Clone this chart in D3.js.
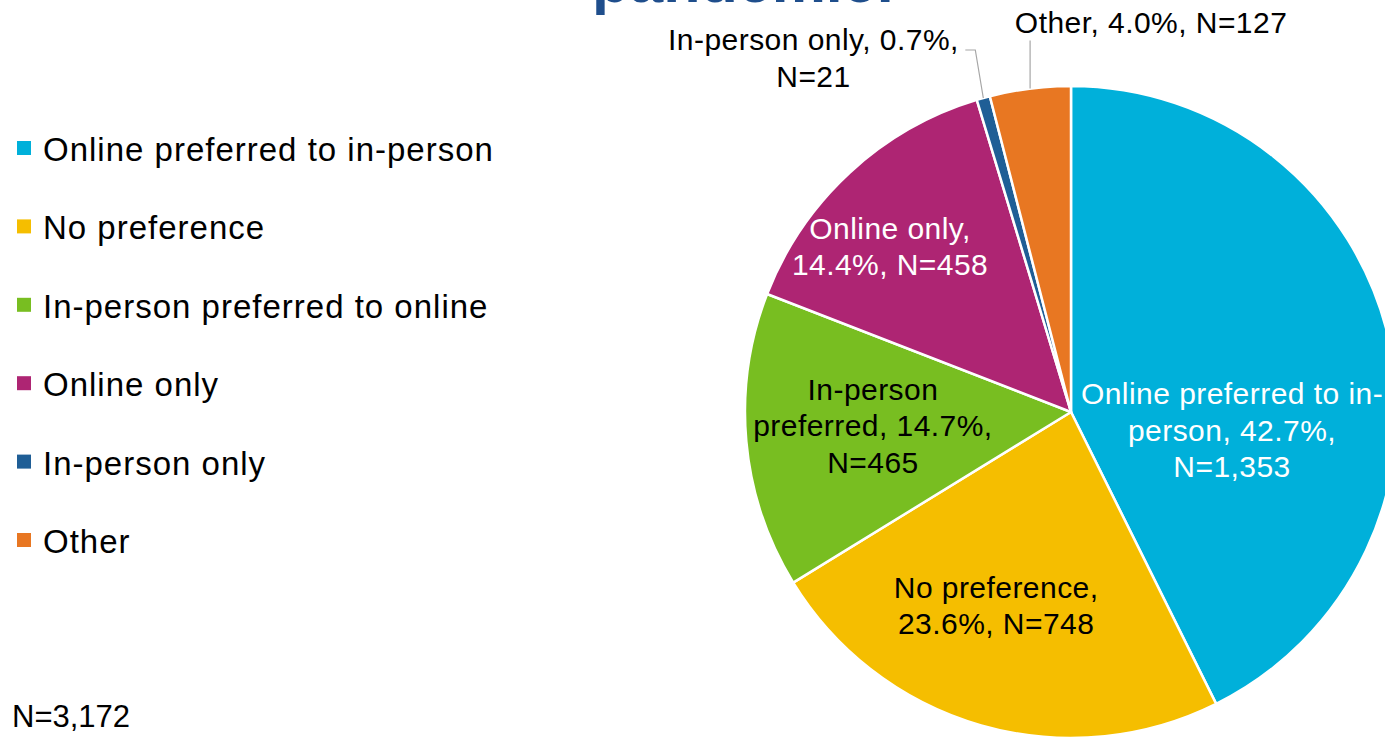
<!DOCTYPE html>
<html lang="en">
<head>
    <meta charset="UTF-8">
    <title>Online vs in-person preference</title>
    <script src="https://d3js.org/d3.v7.min.js"></script>
    <style>
        html, body {
            margin: 0;
            padding: 0;
            background: #fff;
            overflow: hidden;
        }
        body {
            font-family: "Liberation Sans", Arial, sans-serif;
        }
        .legend-text {
            font-size: 33px;
            letter-spacing: 1px;
            fill: #000;
        }
        .slice-label {
            font-size: 30px;
            letter-spacing: 0.45px;
            text-anchor: middle;
        }
        .leader {
            fill: none;
            stroke: #a6a6a6;
            stroke-width: 1.2px;
        }
    </style>
</head>
<body>
    <div id="chart"></div>
    <script>
        // data
        var categories = ['Online preferred to in-person', 'No preference', 'In-person preferred to online', 'Online only', 'In-person only', 'Other'];
        var counts = [1353, 748, 465, 458, 21, 127];
        var percents = ['42.7%', '23.6%', '14.7%', '14.4%', '0.7%', '4.0%'];
        // text of the data labels, one entry per line
        var labelLines = [
            ['Online preferred to in-', 'person, 42.7%,', 'N=1,353'],
            ['No preference,', '23.6%, N=748'],
            ['In-person', 'preferred, 14.7%,', 'N=465'],
            ['Online only,', '14.4%, N=458'],
            ['In-person only, 0.7%,', 'N=21'],
            ['Other, 4.0%, N=127']
        ];
        var colors = ['#00b0da', '#f5be00', '#78be21', '#ae2573', '#1f5e96', '#e87722'];
        var totalLabel = 'N=3,172';
        var titleTail = 'pandemic.';

        var width = 1385,
            height = 740,
            cx = 1071,
            cy = 412,
            radius = 326;

        // where each label sits: angle shift from the slice middle (deg) and distance as share of radius
        var labelLayout = [
            { da: 19.6, k: 0.497, color: '#fff' },
            { da: 5.2, k: 0.635, color: '#000' },
            { da: 1.3, k: 0.609, color: '#000' },
            { da: -4.7, k: 0.753, color: '#fff' },
            { da: -20.4, k: 1.344, color: '#000', leader: { dx: -8, rise: 48, tail: 10 } },
            { da: 18.8, k: 1.222, color: '#000', leader: { dx: 0, rise: 48, tail: 0 } }
        ];

        var svg = d3.select("#chart").append("svg")
            .attr("width", width)
            .attr("height", height);

        // clipped title from the slide above
        svg.append("text")
            .attr("x", 592)
            .attr("y", 2)
            .style("font-size", "61px")
            .style("font-weight", "bold")
            .style("fill", "#1f4e8c")
            .text(titleTail);

        var rows = categories.map(function(c, i) {
            return { name: c, value: counts[i], pct: percents[i], lines: labelLines[i], color: colors[i], layout: labelLayout[i] };
        });

        var pie = d3.pie()
            .sort(null)
            .value(function(d) { return d.value; });

        var arc = d3.arc()
            .innerRadius(0)
            .outerRadius(radius);

        var arcs = pie(rows);

        var g = svg.append("g")
            .attr("transform", "translate(" + cx + "," + cy + ")");

        g.selectAll("path.slice")
            .data(arcs)
            .enter().append("path")
            .attr("class", "slice")
            .attr("d", arc)
            .style("fill", function(d) { return d.data.color; })
            .style("stroke", "#fff")
            .style("stroke-width", 2.5)
            .style("stroke-linejoin", "round");

        function polar(angle, r) {
            return [Math.sin(angle) * r, -Math.cos(angle) * r];
        }

        var lineH = 36.5;

        arcs.forEach(function(d) {
            var lay = d.data.layout;
            var mid = (d.startAngle + d.endAngle) / 2;
            var p = polar(mid + lay.da * Math.PI / 180, lay.k * radius);
            var n = d.data.lines.length;
            var y0 = p[1] - (n - 1) * lineH / 2 + 10.8;

            var t = g.append("text")
                .attr("class", "slice-label")
                .style("fill", lay.color);
            d.data.lines.forEach(function(line, j) {
                t.append("tspan")
                    .attr("x", p[0])
                    .attr("y", y0 + j * lineH)
                    .text(line);
            });

            if (lay.leader) {
                var e = polar(mid, radius);
                var elbow = [e[0] + lay.leader.dx, e[1] - lay.leader.rise];
                var pts = [e, elbow];
                if (lay.leader.tail) pts.push([elbow[0] - lay.leader.tail, elbow[1]]);
                g.append("path")
                    .attr("class", "leader")
                    .attr("d", d3.line()(pts));
            }
        });

        // legend
        var ly = d3.scalePoint()
            .domain(categories)
            .range([161, 553]);

        var legend = svg.append("g");
        var item = legend.selectAll("g")
            .data(rows)
            .enter().append("g")
            .attr("transform", function(d) { return "translate(0," + ly(d.name) + ")"; });

        item.append("rect")
            .attr("x", 17)
            .attr("y", -20)
            .attr("width", 14)
            .attr("height", 14)
            .style("fill", function(d) { return d.color; });

        item.append("text")
            .attr("class", "legend-text")
            .attr("x", 43)
            .attr("y", 0)
            .text(function(d) { return d.name; });

        svg.append("text")
            .attr("x", 12)
            .attr("y", 727)
            .style("font-size", "31px")
            .text(totalLabel);
    </script>
</body>
</html>
